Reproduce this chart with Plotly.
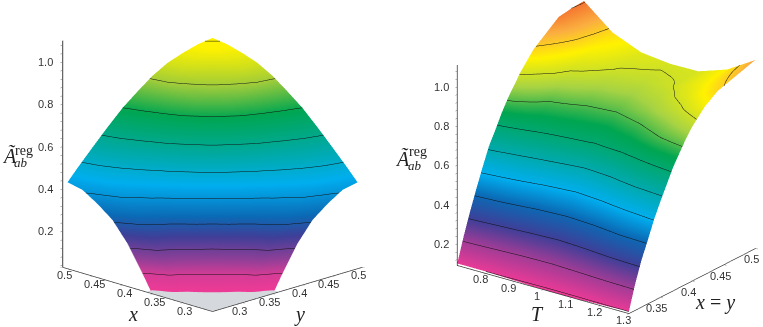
import plotly.graph_objects as go

# left panel: A_ab^reg over x and y at fixed T (symmetric in x, y)
xy_grid = [0.258, 0.275, 0.30, 0.325, 0.35, 0.375, 0.40, 0.425, 0.45, 0.475, 0.50]
left_z = [
    [-0.30, -0.25, -0.15, -0.06, -0.03, 0.10, 0.22, 0.31, 0.365, 0.41, 0.425],
    [-0.25, -0.20, -0.10, -0.02, 0.118, 0.235, 0.325, 0.395, 0.44, 0.465, 0.48],
    [-0.15, -0.10, 0.00, 0.10, 0.205, 0.315, 0.405, 0.465, 0.505, 0.535, 0.556],
    [-0.06, -0.02, 0.10, 0.20, 0.32, 0.417, 0.485, 0.534, 0.577, 0.61, 0.63],
    [-0.03, 0.118, 0.205, 0.32, 0.42, 0.50, 0.565, 0.617, 0.653, 0.68, 0.70],
    [0.10, 0.235, 0.315, 0.417, 0.50, 0.58, 0.637, 0.689, 0.72, 0.742, 0.757],
    [0.22, 0.325, 0.405, 0.485, 0.565, 0.637, 0.70, 0.75, 0.78, 0.80, 0.81],
    [0.31, 0.395, 0.465, 0.534, 0.617, 0.689, 0.75, 0.79, 0.815, 0.84, 0.85],
    [0.365, 0.44, 0.505, 0.577, 0.653, 0.72, 0.78, 0.815, 0.84, 0.865, 0.875],
    [0.41, 0.465, 0.535, 0.61, 0.68, 0.742, 0.80, 0.84, 0.865, 0.885, 0.895],
    [0.425, 0.48, 0.556, 0.63, 0.70, 0.757, 0.81, 0.85, 0.875, 0.895, 0.905],
]
# gray floor patch, only its front part shows below the surface
floor_edges = [0.25, 0.36]
floor_z = [[0.031, 0.031], [0.031, 0.031]]

# right panel: A_ab^reg over T and x = y
T_grid = [0.7, 0.8, 0.9, 1.0, 1.1, 1.2, 1.3]
s_grid = [0.30, 0.31, 0.32, 0.33, 0.34, 0.35, 0.36, 0.37, 0.38, 0.39, 0.40, 0.42, 0.44, 0.46, 0.48, 0.50]
right_z = [
    [0.10, 0.10, 0.095, 0.09, 0.09, 0.095, 0.10],
    [0.222, 0.20, 0.18, 0.175, 0.19, 0.21, 0.225],
    [0.33, 0.30, 0.275, 0.26, 0.28, 0.31, 0.33],
    [0.43, 0.40, 0.36, 0.34, 0.36, 0.40, 0.415],
    [0.525, 0.485, 0.44, 0.42, 0.44, 0.475, 0.505],
    [0.615, 0.57, 0.515, 0.485, 0.51, 0.555, 0.58],
    [0.68, 0.645, 0.60, 0.56, 0.585, 0.63, 0.65],
    [0.75, 0.70, 0.665, 0.635, 0.65, 0.69, 0.72],
    [0.81, 0.74, 0.72, 0.695, 0.71, 0.75, 0.775],
    [0.86, 0.77, 0.745, 0.73, 0.75, 0.795, 0.83],
    [0.91, 0.80, 0.77, 0.755, 0.78, 0.825, 0.875],
    [0.99, 0.87, 0.82, 0.81, 0.84, 0.885, 0.945],
    [1.04, 0.915, 0.865, 0.85, 0.875, 0.925, 0.99],
    [1.09, 0.945, 0.895, 0.88, 0.90, 0.945, 1.01],
    [1.10, 0.97, 0.91, 0.897, 0.905, 0.955, 1.03],
    [1.105, 0.985, 0.925, 0.908, 0.91, 0.96, 1.05],
]

left_colors = [
    [0.0, "#ee3a96"], [0.08, "#d43c96"], [0.15, "#8e3f97"], [0.25, "#3f3f98"],
    [0.34, "#0b6ab5"], [0.48, "#00aeef"], [0.62, "#00a99d"], [0.76, "#00a651"],
    [0.875, "#9ccb3b"], [0.985, "#fff200"], [1.0, "#fff200"],
]
right_colors = [
    [0.0, "#ee3a96"], [0.105, "#a03c96"], [0.2, "#3f3f98"], [0.30, "#0b6ab5"],
    [0.39, "#00aeef"], [0.51, "#00a9a0"], [0.635, "#00a651"], [0.73, "#a6d344"],
    [0.83, "#fff200"], [0.905, "#fbb040"], [1.0, "#f15a29"],
]
floor_colors = [[0.0, "#d5d8dc"], [1.0, "#d5d8dc"]]

xy_ticks = [0.3, 0.35, 0.4, 0.45, 0.5]
xy_labels = ["0.3", "0.35", "0.4", "0.45", "0.5"]
s_ticks = [0.35, 0.4, 0.45, 0.5]
s_labels = ["0.35", "0.4", "0.45", "0.5"]
T_ticks = [0.8, 0.9, 1.0, 1.1, 1.2, 1.3]
T_labels = ["0.8", "0.9", "1", "1.1", "1.2", "1.3"]
z_label_vals = [0.2, 0.4, 0.6, 0.8, 1.0]
z_labels = ["0.2", "0.4", "0.6", "0.8", "1.0"]
z_ticks = [0.04, 0.08, 0.12, 0.16, 0.2, 0.24, 0.28, 0.32, 0.36, 0.4, 0.44, 0.48, 0.52,
           0.56, 0.6, 0.64, 0.68, 0.72, 0.76, 0.8, 0.84, 0.88, 0.92, 0.96, 1.0, 1.04, 1.08]

flat = dict(ambient=1, diffuse=0, specular=0, roughness=1, fresnel=0)
tick_font = dict(family="Liberation Sans", size=11, color="#333333")


def axis(rng, vals, line="#333333", width=1.5):
    return dict(
        range=rng, tickmode="array", tickvals=vals, title=dict(text=""),
        showgrid=False, zeroline=False, showbackground=False, showspikes=False,
        showline=True, linecolor=line, linewidth=width, showticklabels=False,
        ticks="outside", ticklen=3, tickcolor="#666666",
    )


def tick_text(x, y, z, text, xshift, yshift):
    # tick labels anchored on the axes, nudged to the original's offset
    return dict(x=x, y=y, z=z, text=text, showarrow=False, xshift=xshift, yshift=yshift,
                font=tick_font)


left_ticks = (
    [tick_text(0.25, v, 0.03, t, 2, -8) for v, t in zip(xy_ticks, xy_labels)]
    + [tick_text(v, 0.25, 0.03, t, -3, -8) for v, t in zip(xy_ticks, xy_labels)]
    + [tick_text(0.25, 0.5, v, t, -17, 0) for v, t in zip(z_label_vals, z_labels)]
)
right_ticks = (
    [tick_text(v, 0.3, 0.09, t, -5, -6) for v, t in zip(T_ticks, T_labels)]
    + [tick_text(1.3, v, 0.09, t, -3, -11) for v, t in zip(s_ticks, s_labels)]
    + [tick_text(0.7, 0.3, v, t, -15, 0) for v, t in zip(z_label_vals, z_labels)]
)

fig = go.Figure()
fig.add_trace(go.Surface(
    x=floor_edges, y=floor_edges, z=floor_z, colorscale=floor_colors,
    showscale=False, lighting=flat, hoverinfo="skip", scene="scene",
))
# x and y are swapped on the plot axes so x runs to the left as in the original
fig.add_trace(go.Surface(
    x=xy_grid, y=xy_grid, z=left_z, cmin=0.03, cmax=0.905, colorscale=left_colors,
    showscale=False, lighting=flat, hoverinfo="skip",
    contours=dict(z=dict(show=True, start=0.1, end=0.9, size=0.1, color="#111111", width=4)),
    scene="scene",
))
fig.add_trace(go.Surface(
    x=T_grid, y=s_grid, z=right_z, cmin=0.09, cmax=1.135, colorscale=right_colors,
    showscale=False, lighting=flat, hoverinfo="skip",
    contours=dict(z=dict(show=True, start=0.1, end=1.1, size=0.1, color="#111111", width=4)),
    scene="scene2",
))

# axis titles
serif = "Liberation Serif"
titles = [
    ("<i>x</i>", 133, 314, 20), ("<i>y</i>", 299, 314, 20),
    ("<i>T</i>", 537, 314, 20), ("<i>x</i> = <i>y</i>", 715, 302, 20),
    ("<i>Ã</i>", 9, 155, 20), ("reg", 24, 150, 14), ("<i>ab</i>", 21, 162, 13),
    ("<i>Ã</i>", 403, 158, 20), ("reg", 418, 152, 14), ("<i>ab</i>", 415, 165, 13),
]
annotations = [
    dict(text=t, x=px / 763, y=1 - py / 327, xref="paper", yref="paper", showarrow=False,
         xanchor="center", yanchor="middle", font=dict(family=serif, size=s, color="#222222"))
    for t, px, py, s in titles
]

fig.update_layout(
    width=763, height=327, margin=dict(l=0, r=0, t=0, b=0),
    paper_bgcolor="white", showlegend=False, annotations=annotations,
    scene=dict(
        domain=dict(x=[0, 0.5], y=[0, 1]),
        xaxis=axis([0.25, 0.5], xy_ticks),
        yaxis=axis([0.25, 0.5], xy_ticks),
        zaxis=axis([0.03, 1.1], z_ticks, "#666666", 2.5),
        aspectmode="manual", aspectratio=dict(x=1.296, y=1.296, z=1.45),
        camera=dict(projection=dict(type="orthographic"),
                    center=dict(x=-0.093, y=0.093, z=-0.0605),
                    eye=dict(x=-1.443, y=-1.257, z=0.5295)),
        annotations=left_ticks,
    ),
    scene2=dict(
        domain=dict(x=[0.5, 1], y=[0, 1]),
        xaxis=axis([0.7, 1.3], T_ticks),
        yaxis=axis([0.3, 0.5], s_ticks),
        zaxis=axis([0.09, 1.11], z_ticks),
        aspectmode="manual", aspectratio=dict(x=1.305, y=1.305, z=1.325),
        camera=dict(projection=dict(type="orthographic"),
                    center=dict(x=-0.165, y=-0.121, z=-0.045),
                    eye=dict(x=0.935, y=-1.611, z=0.715)),
        annotations=right_ticks,
    ),
)

# drop the page's default body margin so the figure sits at the window's corner
fig.write_html("out.html", config={"displayModeBar": False},
               post_script="document.body.style.margin='0';")
